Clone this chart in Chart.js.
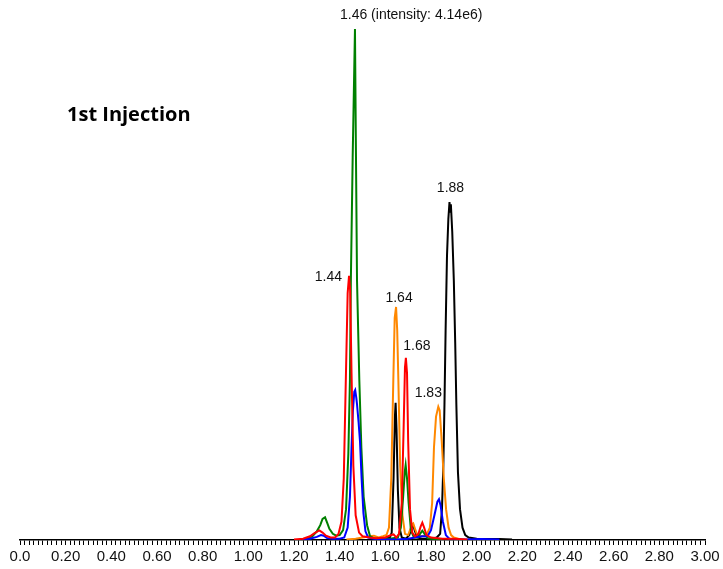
<!DOCTYPE html>
<html>
<head>
<meta charset="utf-8">
<script src="https://cdn.jsdelivr.net/npm/chart.js@4.4.1/dist/chart.umd.min.js"></script>
<style>
  body { margin: 0; background: #fff; }
  #wrap { width: 723px; height: 569px; }
</style>
</head>
<body>
<div id="wrap"><canvas id="chromatogram" width="723" height="569"></canvas></div>
<script>
// retention time (min) and intensity (x 1e6)
var redTimes = [1.20, 1.24, 1.27, 1.29, 1.311, 1.325, 1.34, 1.36, 1.38, 1.395, 1.408, 1.418, 1.427, 1.435, 1.441, 1.446, 1.452, 1.46, 1.47, 1.485, 1.50, 1.53, 1.56, 1.60, 1.625, 1.636, 1.648, 1.66, 1.672, 1.68, 1.686, 1.69, 1.695, 1.70, 1.708, 1.718, 1.73, 1.745, 1.755, 1.762, 1.77, 1.78, 1.80, 1.85, 1.90, 1.96];
var redValues = [0.005, 0.01, 0.03, 0.055, 0.078, 0.06, 0.035, 0.02, 0.02, 0.05, 0.15, 0.5, 1.3, 2.0, 2.14, 2.02, 1.35, 0.6, 0.2, 0.06, 0.03, 0.02, 0.015, 0.02, 0.04, 0.045, 0.02, 0.05, 0.3, 0.9, 1.4, 1.475, 1.35, 0.8, 0.25, 0.06, 0.03, 0.05, 0.11, 0.14, 0.1, 0.04, 0.02, 0.01, 0.01, 0.005];

var greenTimes = [1.25, 1.28, 1.30, 1.315, 1.325, 1.336, 1.345, 1.355, 1.37, 1.385, 1.40, 1.415, 1.428, 1.438, 1.445, 1.449, 1.457, 1.467, 1.471, 1.476, 1.486, 1.495, 1.505, 1.52, 1.533, 1.55, 1.58, 1.62, 1.655, 1.668, 1.678, 1.685, 1.689, 1.695, 1.702, 1.712, 1.725, 1.74, 1.752, 1.762, 1.772, 1.785, 1.80, 1.85];
var greenValues = [0.005, 0.03, 0.07, 0.12, 0.17, 0.184, 0.14, 0.09, 0.05, 0.035, 0.04, 0.08, 0.25, 0.7, 1.3, 2.1, 3.1, 4.14, 3.2, 2.1, 1.3, 0.75, 0.35, 0.12, 0.03, 0.015, 0.01, 0.01, 0.02, 0.1, 0.35, 0.55, 0.608, 0.5, 0.3, 0.08, 0.02, 0.02, 0.05, 0.075, 0.05, 0.015, 0.01, 0.005];

var blueTimes = [1.235, 1.27, 1.30, 1.318, 1.33, 1.345, 1.37, 1.40, 1.42, 1.435, 1.445, 1.452, 1.458, 1.464, 1.468, 1.473, 1.476, 1.483, 1.489, 1.496, 1.504, 1.513, 1.525, 1.55, 1.60, 1.65, 1.70, 1.73, 1.76, 1.785, 1.80, 1.815, 1.828, 1.835, 1.842, 1.852, 1.865, 1.88, 1.95, 2.02, 2.10];
var blueValues = [0.005, 0.01, 0.025, 0.04, 0.035, 0.015, 0.01, 0.01, 0.02, 0.1, 0.35, 0.75, 1.05, 1.2, 1.215, 1.15, 1.1, 0.95, 0.8, 0.5, 0.22, 0.07, 0.02, 0.01, 0.005, 0.005, 0.01, 0.02, 0.03, 0.03, 0.08, 0.2, 0.31, 0.33, 0.28, 0.15, 0.04, 0.01, 0.005, 0.008, 0.005];

var orangeTimes = [1.43, 1.47, 1.50, 1.53, 1.55, 1.57, 1.59, 1.605, 1.616, 1.626, 1.635, 1.641, 1.647, 1.652, 1.657, 1.665, 1.675, 1.686, 1.70, 1.71, 1.718, 1.722, 1.73, 1.74, 1.76, 1.78, 1.795, 1.805, 1.813, 1.822, 1.832, 1.838, 1.847, 1.856, 1.866, 1.877, 1.888, 1.90, 1.93];
var orangeValues = [0.005, 0.01, 0.02, 0.03, 0.035, 0.02, 0.03, 0.04, 0.1, 0.5, 1.3, 1.8, 1.888, 1.7, 1.3, 0.6, 0.2, 0.05, 0.04, 0.09, 0.13, 0.135, 0.09, 0.04, 0.03, 0.04, 0.1, 0.3, 0.75, 1.0, 1.08, 1.05, 0.8, 0.5, 0.25, 0.1, 0.04, 0.02, 0.005];

var blackTimes = [1.55, 1.60, 1.62, 1.628, 1.636, 1.642, 1.645, 1.649, 1.655, 1.662, 1.672, 1.69, 1.705, 1.715, 1.722, 1.73, 1.74, 1.76, 1.80, 1.825, 1.84, 1.848, 1.854, 1.859, 1.864, 1.87, 1.876, 1.881, 1.884, 1.887, 1.893, 1.90, 1.906, 1.911, 1.918, 1.927, 1.938, 1.95, 1.965, 2.00, 2.05, 2.10, 2.155];
var blackValues = [0.005, 0.01, 0.02, 0.06, 0.5, 1.0, 1.112, 0.9, 0.4, 0.1, 0.02, 0.01, 0.04, 0.1, 0.12, 0.07, 0.02, 0.01, 0.01, 0.02, 0.05, 0.25, 0.6, 1.1, 1.7, 2.3, 2.6, 2.738, 2.66, 2.72, 2.5, 2.1, 1.6, 1.1, 0.55, 0.25, 0.1, 0.04, 0.02, 0.01, 0.008, 0.008, 0.005];

// annotated peaks
var peakLabels = ["1.46 (intensity: 4.14e6)", "1.44", "1.64", "1.68", "1.83", "1.88"];
var peakTimes = [1.467, 1.441, 1.647, 1.69, 1.832, 1.881];
var peakValues = [4.14, 2.14, 1.888, 1.475, 1.08, 2.738];

// x axis range and ticks
var timeMin = 0;
var timeMax = 3.0;
var tickStep = 0.02;

// label placement relative to the peak tip (px)
var labelPlace = [
  { dx: -15, dy: -14, align: "left" },
  { dx: -7, dy: 1, align: "right" },
  { dx: 3, dy: -9, align: "center" },
  { dx: 11, dy: -12, align: "center" },
  { dx: -10, dy: -14, align: "center" },
  { dx: 1, dy: -14, align: "center" }
];

function toPoints(times, values) {
  return times.map(function (t, i) { return { x: t, y: values[i] }; });
}

function trace(label, color, times, values) {
  return {
    label: label,
    data: toPoints(times, values),
    borderColor: color,
    backgroundColor: color,
    borderWidth: 2,
    pointRadius: 0,
    tension: 0,
    fill: false
  };
}

var peakLabelPlugin = {
  id: "peakLabels",
  afterDatasetsDraw: function (chart) {
    var ctx = chart.ctx;
    var xs = chart.scales.x, ys = chart.scales.y;
    ctx.save();
    ctx.fillStyle = "#111";
    ctx.font = "14px 'Liberation Sans', Arial, sans-serif";
    ctx.textBaseline = "middle";
    peakLabels.forEach(function (txt, i) {
      var px = xs.getPixelForValue(peakTimes[i]) + labelPlace[i].dx;
      var py = ys.getPixelForValue(peakValues[i]) + labelPlace[i].dy;
      ctx.textAlign = labelPlace[i].align;
      ctx.fillText(txt, px, py);
    });
    // panel title
    ctx.font = "bold 20px 'Open Sans', sans-serif";
    ctx.textAlign = "left";
    ctx.fillStyle = "#000";
    ctx.fillText("1st Injection", 67, 115);
    ctx.restore();
  }
};

var chart = new Chart(document.getElementById("chromatogram"), {
  type: "line",
  data: {
    datasets: [
      trace("red", "#ff0000", redTimes, redValues),
      trace("blue", "#0000ff", blueTimes, blueValues),
      trace("green", "#008000", greenTimes, greenValues),
      trace("orange", "#ff8800", orangeTimes, orangeValues),
      trace("black", "#000000", blackTimes, blackValues)
    ]
  },
  options: {
    responsive: false,
    animation: false,
    layout: { padding: { left: 20, right: 18, top: 0, bottom: 0 } },
    plugins: {
      legend: { display: false },
      tooltip: { enabled: false }
    },
    scales: {
      x: {
        type: "linear",
        min: timeMin,
        max: timeMax,
        grid: {
          drawOnChartArea: false,
          drawTicks: true,
          tickLength: 5,
          color: "#000",
          lineWidth: 1
        },
        border: { display: true, color: "#000", width: 1.5 },
        ticks: {
          stepSize: tickStep,
          maxTicksLimit: 400,
          autoSkip: false,
          maxRotation: 0,
          padding: 3,
          color: "#111",
          font: { family: "'Liberation Sans', Arial, sans-serif", size: 15 },
          callback: function (value) {
            var hundredths = Math.round(value * 100);
            if (hundredths % 20 !== 0) return "";
            if (hundredths === 0) return "0.0";
            return (hundredths / 100).toFixed(2);
          }
        }
      },
      y: {
        display: false,
        min: 0,
        max: 4.375
      }
    }
  },
  plugins: [peakLabelPlugin]
});
</script>
</body>
</html>
